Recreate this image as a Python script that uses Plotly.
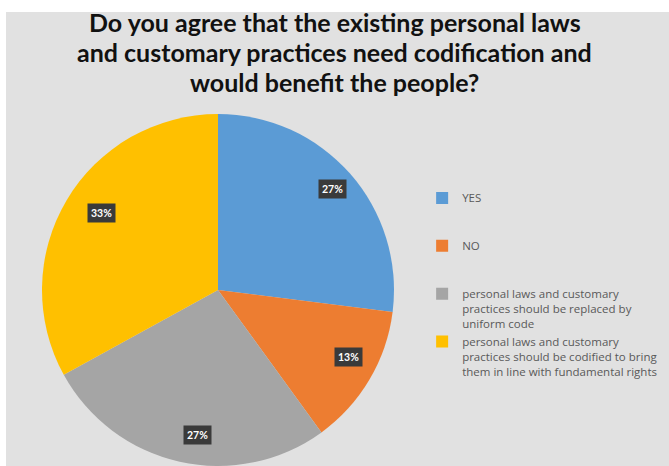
import math
import plotly.graph_objects as go

W, H = 669, 466

title_lines = [
    "Do you agree that the existing personal laws",
    "and customary practices need codification and",
    "would benefit the people?",
]
categories = [
    "YES",
    "NO",
    "personal laws and customary<br>practices should be replaced by<br>uniform code",
    "personal laws and customary<br>practices should be codified to bring<br>them in line with fundamental rights",
]
values = [27, 13, 27, 33]
colors = ["#5B9BD5", "#ED7D31", "#A5A5A5", "#FFC000"]

# pad short legend entries to three lines so spacing matches
legend_labels = [c if "<br>" in c else c + "<br> <br> " for c in categories]

# pie geometry (pixels)
cx, cy, r = 218, 290, 176
dom_x = [(cx - r) / W, (cx + r) / W]
dom_y = [1 - (cy + r) / H, 1 - (cy - r) / H]

fig = go.Figure(
    go.Pie(
        labels=legend_labels,
        values=values,
        sort=False,
        direction="clockwise",
        rotation=0,
        marker=dict(colors=colors, line=dict(width=0)),
        textinfo="none",
        hoverinfo="label+percent",
        domain=dict(x=dom_x, y=dom_y),
    )
)

# data labels: dark boxes placed "inside end" of each slice
total = sum(values)
cum = 0
bw, bh = 18, 9
annotations = []
for v in values:
    theta = math.radians((cum + v / 2) / total * 360)
    cum += v
    dx, dy = math.sin(theta), -math.cos(theta)
    t = r
    while t > 0:
        ok = True
        for sx in (-bw, bw):
            for sy in (-bh, bh):
                px, py = t * dx + sx, t * dy + sy
                if math.hypot(px, py) > r - 3:
                    ok = False
        if ok:
            break
        t -= 1
    px, py = cx + t * dx, cy + t * dy
    annotations.append(
        dict(
            x=px / W, y=1 - py / H, xref="paper", yref="paper",
            text=f"<b>{round(v / total * 100)}%</b>",
            showarrow=False,
            font=dict(family="Lato", size=10.5, color="white"),
            bgcolor="#3a3a3a",
            borderpad=3,
        )
    )

# title lines as annotations for precise line spacing
for i, line in enumerate(title_lines):
    annotations.append(
        dict(
            x=0.5, y=1 - (22 + 30 * i) / H, xref="paper", yref="paper",
            xanchor="center", yanchor="middle",
            text="<b>" + line + "</b>",
            showarrow=False,
            font=dict(family="Lato", size=25, color="#111111"),
        )
    )

shapes = [
    dict(type="rect", xref="paper", yref="paper", x0=0, x1=1, y0=1 - 12 / H, y1=1,
         fillcolor="white", line=dict(width=0), layer="below"),
    dict(type="rect", xref="paper", yref="paper", x0=0, x1=6 / W, y0=0, y1=1,
         fillcolor="white", line=dict(width=0), layer="below"),
]

fig.update_layout(
    width=W, height=H,
    margin=dict(l=0, r=0, t=0, b=0),
    paper_bgcolor="#e1e1e1",
    plot_bgcolor="#e1e1e1",
    legend=dict(
        x=0.631, y=1 - 184 / H, xanchor="left", yanchor="top",
        font=dict(family="Open Sans", size=11.5, color="#595959"),
        bgcolor="rgba(0,0,0,0)",
        valign="top",
        itemwidth=30,
        traceorder="normal",
    ),
    annotations=annotations,
    shapes=shapes,
    showlegend=True,
)

fig.write_html("out.html")
